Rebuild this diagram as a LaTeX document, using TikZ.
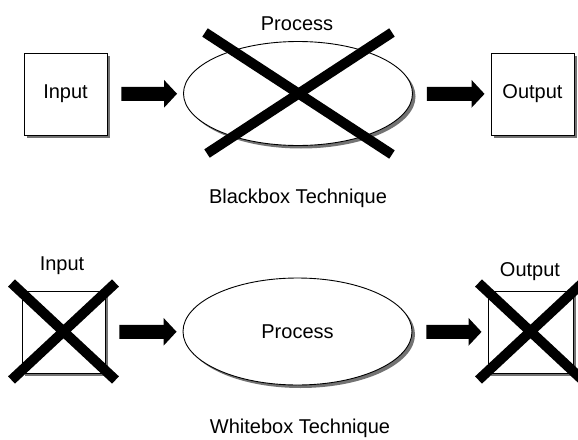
\documentclass[tikz,border=0pt]{standalone}
\usepackage{fontspec}
\setmainfont{Liberation Sans}
\usetikzlibrary{arrows.meta,positioning,shapes.geometric,shadows,calc}

\begin{document}
\begin{tikzpicture}[x=1pt,y=-1pt,font=\fontsize{20}{24}\selectfont,
  shd/.style={drop shadow={shadow xshift=3pt,shadow yshift=-3pt,fill=black!55,opacity=1}},
  blk/.style={draw,line width=0.9pt,fill=white,inner sep=0pt,minimum width=83pt,minimum height=82pt,shd},
  procbox/.style={draw,ellipse,line width=0.9pt,fill=white,inner sep=0pt,minimum width=229pt,minimum height=104pt,shd},
  arr/.style={line width=14pt,-{Triangle[length=13pt,width=27pt]},shorten <=14pt,shorten >=6pt},
  xmark/.style={line width=10pt}]
\useasboundingbox (0,0) rectangle (578,439);
% blackbox
\node[blk] (in1) at (65.5,94) {Input};
\node[procbox] (pr1) at (298,93.5) {};
\node[blk] (out1) at (532.5,94) {Output};
\node (pl1) at (297,24) {Process};
\draw[arr] (in1) -- (pr1);
\draw[arr] (pr1) -- (out1);
\draw[xmark] ($(pr1)+(-93,-61)$) -- ($(pr1)+(94,61)$);
\draw[xmark] ($(pr1)+(94,-61)$) -- ($(pr1)+(-91,60)$);
\node (cap1) at (298,198) {Blackbox Technique};
% whitebox
\node[blk] (in2) at (63.5,332) {};
\node[procbox,minimum height=107pt] (pr2) at (297.5,331.5) {Process};
\node[blk,minimum width=85pt] (out2) at (530.5,332) {};
\node (il2) at (62,266) {Input};
\node (ol2) at (530,272) {Output};
\draw[arr] (in2) -- (pr2);
\draw[arr] (pr2) -- (out2);
\foreach \b in {in2,out2}
  {\draw[xmark] ($(\b)+(-52,-49)$) -- ($(\b)+(52,48)$);
   \draw[xmark] ($(\b)+(52,-49)$) -- ($(\b)+(-52,48)$);}
\node (cap2) at (300,428) {Whitebox Technique};
\end{tikzpicture}
\end{document}
